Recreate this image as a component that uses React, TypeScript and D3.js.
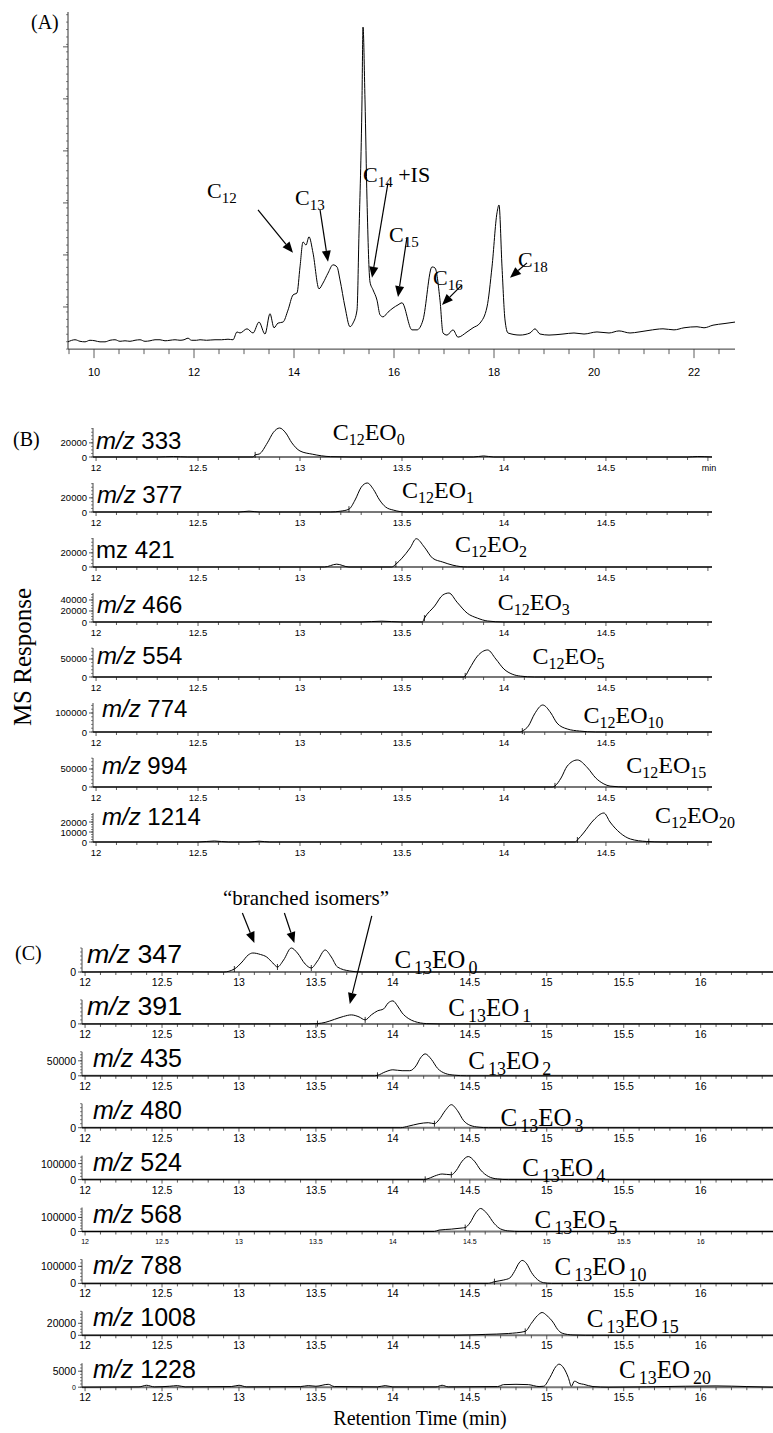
import * as d3 from "d3";

const serif = "'Liberation Serif', 'Times New Roman', serif";
const sans = "'Liberation Sans', Arial, Helvetica, sans-serif";

// ---------- Panel A: total ion chromatogram (arbitrary units) ----------
const traceA: [number, number][] = [
  [9.48, 0.33], [9.62, 0.37], [9.72, 0.34], [9.82, 0.33], [9.92, 0.36], [10.02, 0.35], [10.12, 0.33],
  [10.22, 0.33], [10.32, 0.36], [10.42, 0.37], [10.52, 0.34], [10.62, 0.35], [10.72, 0.34], [10.82, 0.36],
  [10.92, 0.37], [11.02, 0.34], [11.12, 0.35], [11.22, 0.37], [11.32, 0.37], [11.42, 0.35], [11.52, 0.36],
  [11.62, 0.37], [11.72, 0.36], [11.8, 0.37], [11.88, 0.4], [11.95, 0.36], [12.05, 0.36], [12.12, 0.37],
  [12.25, 0.36], [12.42, 0.37], [12.55, 0.37], [12.68, 0.38], [12.78, 0.37], [12.86, 0.52], [12.92, 0.5],
  [13.06, 0.58], [13.18, 0.5], [13.3, 0.71], [13.42, 0.48], [13.52, 0.87], [13.6, 0.6], [13.68, 0.69],
  [13.78, 0.71], [13.88, 0.94], [13.98, 1.23], [14.06, 1.27], [14.12, 1.77], [14.18, 2.25], [14.24, 2.19],
  [14.3, 2.35], [14.38, 2.04], [14.5, 1.35], [14.58, 1.46], [14.68, 1.65], [14.78, 1.81], [14.86, 1.77],
  [14.92, 1.52], [15.02, 1.0], [15.12, 0.62], [15.18, 0.69], [15.26, 0.94], [15.3, 2.42], [15.36, 4.98],
  [15.38, 6.38], [15.42, 4.98], [15.46, 3.06], [15.52, 1.48], [15.58, 1.33], [15.66, 1.13], [15.72, 0.85],
  [15.78, 0.81], [15.88, 0.9], [15.98, 0.98], [16.08, 1.04], [16.16, 1.08], [16.36, 0.56], [16.46, 0.56],
  [16.58, 0.75], [16.76, 1.77], [16.82, 1.75], [16.92, 1.13], [16.98, 0.5], [17.06, 0.46], [17.18, 0.56],
  [17.28, 0.42], [17.46, 0.52], [17.58, 0.6], [17.72, 0.69], [17.86, 1.0], [17.96, 1.77], [18.06, 2.81],
  [18.1, 2.96], [18.16, 1.77], [18.22, 0.75], [18.28, 0.5], [18.52, 0.46], [18.72, 0.5], [18.82, 0.58],
  [18.92, 0.48], [19.1, 0.46], [19.38, 0.48], [19.6, 0.5], [19.8, 0.48], [20.06, 0.52], [20.3, 0.5],
  [20.5, 0.54], [20.72, 0.5], [20.9, 0.52], [21.1, 0.55], [21.38, 0.58], [21.6, 0.56], [21.8, 0.6],
  [22.06, 0.62], [22.2, 0.6], [22.38, 0.65], [22.6, 0.68], [22.82, 0.71],
];
const aTickLabels = [10, 12, 14, 16, 18, 20, 22];
// peak annotations: carbon number, extra text, label (t, v), arrow tip (t, v), tail offset in px
const aPeaks = [
  { c: "12", extra: "", lt: 12.26, lv: 3.1, tt: 13.98, tv: 2.04, dx: -35, dy: -43 },
  { c: "13", extra: "", lt: 14.02, lv: 2.96, tt: 14.68, tv: 1.87, dx: -8, dy: -52 },
  { c: "14", extra: " +IS", lt: 15.38, lv: 3.4, tt: 15.56, tv: 1.56, dx: 16, dy: -95 },
  { c: "15", extra: "", lt: 15.9, lv: 2.25, tt: 16.08, tv: 1.19, dx: 9, dy: -60 },
  { c: "16", extra: "", lt: 16.78, lv: 1.42, tt: 16.96, tv: 1.04, dx: 20, dy: -20 },
  { c: "18", extra: "", lt: 18.48, lv: 1.77, tt: 18.32, tv: 1.56, dx: 17, dy: -15 },
];

// ---------- Panel B: C12 ethoxylates ----------
const bMzPrefix = ["m/z", "m/z", "mz", "m/z", "m/z", "m/z", "m/z", "m/z"];
const bMz = ["333", "377", "421", "466", "554", "774", "994", "1214"];
const bEO = ["0", "1", "2", "3", "5", "10", "15", "20"];
const bTop = [41000, 41000, 41000, 52700, 80500, 152600, 80500, 29000];
const bTicks = [[0, 20000], [0, 20000], [0, 20000], [0, 20000, 40000], [0, 50000], [0, 100000], [0, 50000], [0, 10000, 20000]];
const bMinor = [5000, 5000, 5000, 5000, 10000, 20000, 10000, 2500];
const bMarks = [[12.78], [13.24], [13.47], [13.61], [13.81], [14.09], [14.25], [14.36, 14.71]];
const bLabelT = [13.16, 13.5, 13.76, 13.97, 14.14, 14.39, 14.6, 14.74];
const bTraces: [number, number][][] = [
  [[11.985, 0], [12.3, 0], [12.38, 600], [12.45, 0], [12.77, 0], [12.78, 3000], [12.8, 4200], [12.84, 20000],
    [12.87, 35000], [12.9, 41000], [12.93, 34000], [12.96, 20000], [13.0, 8500], [13.06, 4000], [13.15, 500],
    [13.25, 0], [13.85, 0], [13.9, 1500], [13.95, 0], [14.9, 0], [14.95, 700], [15.02, 0]],
  [[11.985, 0], [12.7, 0], [12.75, 1200], [12.8, 0], [13.15, 0], [13.2, 1200], [13.24, 4000], [13.27, 17000],
    [13.3, 35000], [13.33, 41000], [13.36, 32000], [13.39, 17000], [13.42, 7000], [13.46, 2500], [13.52, 0], [15.02, 0]],
  [[11.985, 0], [13.12, 0], [13.18, 4000], [13.24, 0], [13.45, 0], [13.47, 4000], [13.5, 12500], [13.54, 27000],
    [13.57, 40000], [13.61, 28000], [13.65, 12500], [13.7, 7000], [13.75, 2500], [13.82, 0], [15.02, 0]],
  [[11.985, 0], [13.3, 0], [13.4, 1500], [13.5, 0], [13.6, 0], [13.61, 7000], [13.66, 29000], [13.7, 49000],
    [13.73, 52700], [13.77, 36000], [13.82, 16000], [13.87, 7000], [13.92, 1800], [14.0, 0], [15.02, 0]],
  [[11.985, 0], [13.8, 0], [13.81, 3000], [13.83, 22000], [13.87, 58000], [13.92, 75000], [13.96, 50000],
    [14.0, 22000], [14.04, 8000], [14.08, 2500], [14.15, 0], [15.02, 0]],
  [[11.985, 0], [14.08, 0], [14.09, 5000], [14.12, 32000], [14.15, 95000], [14.19, 142000], [14.23, 100000],
    [14.26, 47000], [14.31, 16000], [14.37, 5000], [14.45, 0], [15.02, 0]],
  [[11.985, 0], [14.24, 0], [14.25, 3000], [14.28, 25000], [14.31, 58000], [14.36, 75000], [14.41, 53000],
    [14.45, 25000], [14.49, 8500], [14.52, 2500], [14.6, 0], [15.02, 0]],
  [[11.985, 0], [12.5, 0], [12.58, 1000], [12.65, 0], [12.75, 0], [12.8, 800], [12.85, 0], [14.35, 0],
    [14.36, 2000], [14.39, 9000], [14.44, 22000], [14.49, 29000], [14.52, 20000], [14.57, 9000], [14.62, 3000],
    [14.7, 500], [14.78, 0], [15.02, 0]],
];
const bTickLabels = [12, 12.5, 13, 13.5, 14, 14.5];

// ---------- Panel C: C13 ethoxylates ----------
const cMz = ["347", "391", "435", "480", "524", "568", "788", "1008", "1228"];
const cEO = ["0", "1", "2", "3", "4", "5", "10", "15", "20"];
const cTop = [24000, 24000, 80000, 24000, 150000, 171000, 141000, 40000, 7500];
const cTicks = [[0], [0], [0, 50000], [0], [0, 100000], [0, 100000], [0, 100000], [0, 20000], [0, 5000]];
const cMinor = [4000, 4000, 10000, 4000, 20000, 20000, 20000, 5000, 1000];
const cMarks = [[12.97, 13.25, 13.47], [13.51, 13.82], [13.9], [14.27], [14.21, 14.38], [14.47], [14.66], [14.86], []];
const cLabelT = [14.01, 14.36, 14.49, 14.7, 14.84, 14.92, 15.05, 15.26, 15.47];
const cTraces: [number, number][][] = [
  [[11.98, 0], [12.5, 300], [12.9, 0], [12.97, 3000], [13.02, 10000], [13.06, 17000], [13.09, 19000],
    [13.14, 17500], [13.18, 15000], [13.22, 9000], [13.25, 5000], [13.29, 12000], [13.34, 24000], [13.38, 19000],
    [13.43, 8000], [13.47, 4000], [13.51, 11000], [13.56, 22000], [13.6, 15000], [13.64, 5000], [13.72, 1000],
    [13.8, 0], [16.47, 0]],
  [[11.98, 0], [13.45, 0], [13.51, 300], [13.56, 1500], [13.62, 4500], [13.68, 7500], [13.73, 9000],
    [13.78, 7000], [13.82, 4000], [13.86, 9000], [13.9, 13000], [13.94, 15000], [13.97, 21000], [14.0, 23000],
    [14.03, 18000], [14.06, 11000], [14.1, 5500], [14.14, 2500], [14.22, 300], [14.3, 0], [16.47, 0]],
  [[11.98, 0], [13.88, 0], [13.9, 1500], [13.95, 13000], [14.0, 20000], [14.06, 17000], [14.11, 17000],
    [14.15, 33000], [14.18, 60000], [14.21, 73000], [14.25, 55000], [14.29, 25000], [14.34, 8000], [14.4, 2000],
    [14.48, 0], [16.47, 0]],
  [[11.98, 0], [14.05, 0], [14.1, 1500], [14.17, 4000], [14.23, 5000], [14.27, 4000], [14.3, 8000],
    [14.34, 17000], [14.38, 23000], [14.42, 17000], [14.46, 7000], [14.5, 2500], [14.56, 500], [14.62, 0], [16.47, 0]],
  [[11.98, 0], [14.2, 0], [14.22, 3000], [14.27, 22000], [14.32, 35000], [14.38, 30000], [14.41, 55000],
    [14.45, 115000], [14.49, 144000], [14.53, 115000], [14.57, 60000], [14.62, 20000], [14.68, 4000], [14.75, 0], [16.47, 0]],
  [[11.98, 0], [14.27, 0], [14.3, 10000], [14.38, 17000], [14.45, 25000], [14.47, 28000], [14.5, 60000],
    [14.54, 135000], [14.57, 164000], [14.61, 130000], [14.66, 55000], [14.7, 18000], [14.76, 3000], [14.82, 0], [16.47, 0]],
  [[11.98, 0], [14.62, 0], [14.66, 10000], [14.72, 20000], [14.76, 32000], [14.79, 70000], [14.82, 120000],
    [14.84, 135000], [14.87, 115000], [14.9, 65000], [14.94, 22000], [14.98, 4000], [15.03, 0], [16.47, 0]],
  [[11.98, 0], [14.4, 0], [14.6, 1500], [14.75, 3000], [14.86, 6500], [14.9, 20000], [14.94, 33000],
    [14.97, 38000], [15.0, 33000], [15.04, 22000], [15.07, 10000], [15.1, 3500], [15.17, 500], [15.25, 0], [16.47, 0]],
  [[11.98, 0], [12.35, 100], [12.4, 600], [12.45, 100], [12.55, 300], [12.6, 500], [12.65, 100], [12.95, 200],
    [13.0, 600], [13.05, 100], [13.4, 200], [13.45, 500], [13.5, 300], [13.58, 900], [13.62, 200], [13.9, 100],
    [13.95, 500], [14.0, 100], [14.28, 100], [14.32, 600], [14.36, 100], [14.68, 200], [14.72, 800], [14.8, 900],
    [14.88, 800], [14.95, 200], [14.98, 300], [15.02, 3000], [15.06, 6500], [15.08, 7200], [15.11, 6000],
    [15.14, 3000], [15.16, 300], [15.18, 1900], [15.21, 1200], [15.24, 900], [15.3, 200], [15.4, 0], [15.9, 300],
    [16.1, 400], [16.3, 200], [16.47, 0]],
];
const cTickLabels = [12, 12.5, 13, 13.5, 14, 14.5, 15, 15.5, 16];

// ---------- layout ----------
const xA = d3.scaleLinear().domain([9.48, 22.82]).range([68, 735]);
const yA = d3.scaleLinear().domain([0, 6.67]).range([359, 12]);
const aBase = 0.19;
const xB = d3.scaleLinear().domain([11.985, 15.02]).range([93, 712]);
const xC = d3.scaleLinear().domain([11.98, 16.47]).range([82, 773]);
const bRow0 = 457, bStep = 55, bH = 29;
const cRow0 = 972, cStep = 51.9, cH = 24;
const bMzDy = [-8, -9, -9, -9, -13, -15, -13, -17];
const bMzX = [96, 97, 96, 97, 97, 102, 102, 102];
const bEoDy = [-17, -14, -15, -12, -13, -9, -14, -19];
const cMzX = [87, 87, 93, 93, 93, 93, 93, 93, 93];
const cEoDy = [-4, -8, -7, -2, -4, -4, -8, -8, -9];

function Arrow({ x1, y1, x2, y2 }: { x1: number; y1: number; x2: number; y2: number }) {
  const a = Math.atan2(y2 - y1, x2 - x1);
  const len = 11, wid = 9;
  const bx = x2 - len * Math.cos(a), by = y2 - len * Math.sin(a);
  const px = (-Math.sin(a) * wid) / 2, py = (Math.cos(a) * wid) / 2;
  return (
    <g>
      <line x1={x1} y1={y1} x2={bx} y2={by} stroke="#000" strokeWidth={1.2} />
      <polygon points={`${x2},${y2} ${bx + px},${by + py} ${bx - px},${by - py}`} fill="#000" />
    </g>
  );
}

function valueAt(pts: [number, number][], t: number) {
  const i = d3.bisector((d: [number, number]) => d[0]).left(pts, t);
  if (i <= 0) return pts[0][1];
  if (i >= pts.length) return pts[pts.length - 1][1];
  const [t0, v0] = pts[i - 1], [t1, v1] = pts[i];
  return v0 + ((v1 - v0) * (t - t0)) / (t1 - t0);
}

type StripProps = {
  xs: d3.ScaleLinear<number, number>;
  y0: number; h: number; top: number; ticks: number[]; minor: number;
  pts: [number, number][]; marks: number[]; tickLabels: number[]; tickFont: number;
  yFont: number; zeroFont?: number; showMin?: boolean;
  prefix: string; mz: string; mzX: number; mzDy: number; mzSize: number; mzLen?: number;
  carbon: string; eo: string; eoT: number; eoDy: number; eoSize: number; subSize: number; subDy: number; gap: number;
};

function Strip(p: StripProps) {
  const ys = d3.scaleLinear().domain([0, p.top]).range([p.y0, p.y0 - p.h]);
  const [d0, d1] = p.xs.domain();
  const ax = p.xs.range()[0];
  const line = d3.line<[number, number]>().x((d) => p.xs(d[0])).y((d) => ys(d[1])).curve(d3.curveMonotoneX);
  const minorTicks = d3.range(0, p.top + 1e-6, p.minor);
  const xTicks = d3.range(Math.ceil(d0 * 10), Math.floor(d1 * 10) + 1).map((i) => i / 10);
  return (
    <g>
      {/* x axis */}
      <line x1={ax} x2={p.xs.range()[1]} y1={p.y0} y2={p.y0} stroke="#777" strokeWidth={2} />
      {xTicks.map((t) => (
        <line key={t} x1={p.xs(t)} x2={p.xs(t)} y1={p.y0} y2={p.y0 + (Math.round(t * 10) % 5 === 0 ? 4 : 3)} stroke="#333" strokeWidth={0.8} />
      ))}
      {p.tickLabels.map((t) => (
        <text key={t} x={p.xs(t)} y={p.y0 + 10} fontFamily={sans} fontSize={p.tickFont} textAnchor="middle" dominantBaseline="central">
          {String(t)}
        </text>
      ))}
      {p.showMin && (
        <text x={p.xs.range()[1] - 3} y={p.y0 + 11} fontFamily={sans} fontSize={9} textAnchor="middle" dominantBaseline="central">min</text>
      )}
      {/* y axis */}
      <line x1={ax} x2={ax} y1={p.y0} y2={p.y0 - p.h} stroke="#333" strokeWidth={0.9} />
      {minorTicks.map((v) => (
        <line key={v} x1={ax - 2} x2={ax} y1={ys(v)} y2={ys(v)} stroke="#333" strokeWidth={0.6} />
      ))}
      {p.ticks.map((v) => (
        <g key={v}>
          <line x1={ax - 4} x2={ax} y1={ys(v)} y2={ys(v)} stroke="#333" strokeWidth={0.8} />
          <text x={ax - 6} y={ys(v)} fontFamily={sans} fontSize={v === 0 && p.zeroFont ? p.zeroFont : p.yFont} textAnchor="end" dominantBaseline="central">
            {String(v)}
          </text>
        </g>
      ))}
      {/* trace */}
      <path d={line(p.pts) || ""} fill="none" stroke="#000" strokeWidth={1} />
      {p.marks.map((t) => {
        const yv = ys(valueAt(p.pts, t));
        return <line key={t} x1={p.xs(t)} x2={p.xs(t)} y1={yv - 3} y2={yv + 3} stroke="#000" strokeWidth={0.8} />;
      })}
      {/* labels */}
      <text x={p.mzX} y={p.y0 + p.mzDy} fontFamily={sans} fontSize={p.mzSize} textLength={p.mzLen} lengthAdjust="spacingAndGlyphs">
        <tspan fontStyle={p.prefix === "m/z" ? "italic" : "normal"}>{p.prefix}</tspan>
        <tspan>{" " + p.mz}</tspan>
      </text>
      <text x={p.xs(p.eoT)} y={p.y0 + p.eoDy} fontFamily={serif} fontSize={p.eoSize}>
        <tspan>C</tspan>
        <tspan fontSize={p.subSize} dy={p.subDy} dx={p.gap}>{p.carbon}</tspan>
        <tspan dy={-p.subDy}>EO</tspan>
        <tspan fontSize={p.subSize} dy={p.subDy} dx={p.gap}>{p.eo}</tspan>
      </text>
    </g>
  );
}

function PanelA() {
  const line = d3.line<[number, number]>().x((d) => xA(d[0])).y((d) => yA(d[1])).curve(d3.curveMonotoneX);
  const yb = yA(aBase);
  const xTicks = d3.range(19, 46).map((i) => i / 2);
  const yMinor = d3.range(aBase, 6.67, 1 / 7);
  return (
    <g>
      <line x1={xA(9.48)} x2={xA(22.82)} y1={yb} y2={yb} stroke="#333" strokeWidth={1} />
      {xTicks.map((t) => (
        <line key={t} x1={xA(t)} x2={xA(t)} y1={yb} y2={yb + (t % 2 === 0 ? 9 : 5)} stroke="#333" strokeWidth={0.8} />
      ))}
      {aTickLabels.map((t) => (
        <text key={t} x={xA(t)} y={yb + 23} fontFamily={sans} fontSize={11} textAnchor="middle" dominantBaseline="central">
          {t}
        </text>
      ))}
      <line x1={xA(9.48)} x2={xA(9.48)} y1={yb} y2={yA(6.67)} stroke="#333" strokeWidth={1} />
      {yMinor.map((v) => (
        <line key={v} x1={xA(9.48) - 2} x2={xA(9.48)} y1={yA(v)} y2={yA(v)} stroke="#333" strokeWidth={0.6} />
      ))}
      {d3.range(1, 7).map((v) => (
        <line key={v} x1={xA(9.48) - 5} x2={xA(9.48)} y1={yA(v)} y2={yA(v)} stroke="#333" strokeWidth={0.8} />
      ))}
      <path d={line(traceA) || ""} fill="none" stroke="#000" strokeWidth={1} />
      {aPeaks.map((pk) => {
        const tx = xA(pk.tt), ty = yA(pk.tv);
        return (
          <g key={pk.c}>
            <Arrow x1={tx + pk.dx} y1={ty + pk.dy} x2={tx} y2={ty} />
            <text x={xA(pk.lt)} y={yA(pk.lv)} fontFamily={serif} fontSize={22}>
              <tspan>C</tspan>
              <tspan fontSize={15} dy={5}>{pk.c}</tspan>
              {pk.extra && <tspan dy={-5}>{pk.extra}</tspan>}
            </text>
          </g>
        );
      })}
      <text x={31} y={29} fontFamily={serif} fontSize={20}>(A)</text>
    </g>
  );
}

export default function App() {
  const c0 = cRow0, c1 = cRow0 + cStep;
  return (
    <div>
      <style>{"body{margin:0}"}</style>
      <svg width={773} height={1433} style={{ display: "block", background: "#fff" }}>
        <rect width={773} height={1433} fill="#fff" />
        <PanelA />

        <text x={13} y={446} fontFamily={serif} fontSize={20}>(B)</text>
        {bMz.map((mz, i) => (
          <Strip
            key={mz}
            xs={xB} y0={bRow0 + i * bStep} h={bH} top={bTop[i]} ticks={bTicks[i]} minor={bMinor[i]}
            pts={bTraces[i]} marks={bMarks[i]} tickLabels={bTickLabels} tickFont={9.5} yFont={9.5}
            showMin={i === 0}
            prefix={bMzPrefix[i]} mz={mz} mzX={bMzX[i]} mzDy={bMzDy[i]} mzSize={24}
            carbon="12" eo={bEO[i]} eoT={bLabelT[i]} eoDy={bEoDy[i]} eoSize={24} subSize={16} subDy={5} gap={0}
          />
        ))}

        <text x={22} y={657} fontFamily={serif} fontSize={25} textAnchor="middle" dominantBaseline="central" transform="rotate(-90 22 657)">
          MS Response
        </text>

        <text x={15} y={960} fontFamily={serif} fontSize={20}>(C)</text>
        {cMz.map((mz, i) => (
          <Strip
            key={mz}
            xs={xC} y0={cRow0 + i * cStep} h={cH} top={cTop[i]} ticks={cTicks[i]} minor={cMinor[i]}
            pts={cTraces[i]} marks={cMarks[i]} tickLabels={cTickLabels} tickFont={i === 5 ? 7 : 10.5} yFont={10.5}
            zeroFont={i === 8 ? 7 : undefined}
            prefix="m/z" mz={mz} mzX={cMzX[i]} mzDy={-9} mzSize={25} mzLen={i < 2 ? 95 : undefined}
            carbon="13" eo={cEO[i]} eoT={cLabelT[i]} eoDy={cEoDy[i]} eoSize={25} subSize={18} subDy={6} gap={3}
          />
        ))}

        {/* branched isomer annotation */}
        <text x={306} y={905} fontFamily={serif} fontSize={21} textAnchor="middle">“branched isomers”</text>
        <Arrow x1={xC(13.1) - 12} y1={c0 - 29 - 30} x2={xC(13.1)} y2={c0 - 29} />
        <Arrow x1={xC(13.36) - 10} y1={c0 - 29 - 30} x2={xC(13.36)} y2={c0 - 29} />
        <Arrow x1={xC(13.72) + 22} y1={c1 - 20 - 88} x2={xC(13.72)} y2={c1 - 20} />

        <text x={420} y={1425} fontFamily={serif} fontSize={20} textAnchor="middle">Retention Time (min)</text>
      </svg>
    </div>
  );
}
